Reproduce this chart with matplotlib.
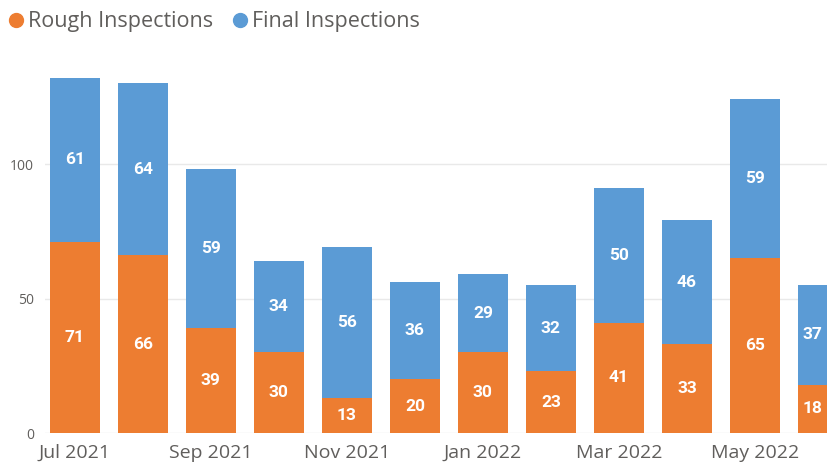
import matplotlib
matplotlib.use('Agg')
import matplotlib.pyplot as plt
from matplotlib.lines import Line2D
import numpy as np

months = ["Jul 2021", "Aug 2021", "Sep 2021", "Oct 2021", "Nov 2021", "Dec 2021",
          "Jan 2022", "Feb 2022", "Mar 2022", "Apr 2022", "May 2022", "Jun 2022"]
rough = [71, 66, 39, 30, 13, 20, 30, 23, 41, 33, 65, 18]
final = [61, 64, 59, 34, 56, 36, 29, 32, 50, 46, 59, 37]

ORANGE = "#ED7D31"
BLUE = "#5B9BD5"
GRAY = "#605E5C"

plt.rcParams['font.family'] = ['Open Sans', 'DejaVu Sans']

W, H = 827, 465
fig = plt.figure(figsize=(W / 100, H / 100), dpi=100)
ax = fig.add_axes([45 / W, 32 / H, 782 / W, 376.6 / H])

x = np.arange(len(months))
w = 0.735
xmax = 11.06
ax.bar(x, rough, width=w, color=ORANGE, zorder=3)
ax.bar(x, final, width=w, bottom=rough, color=BLUE, zorder=3)

# value labels centred in the visible part of each segment
for i in range(len(months)):
    cx = x[i]
    if x[i] + w / 2 > xmax:
        cx = (x[i] - w / 2 + xmax) / 2
    ax.text(cx, rough[i] / 2, str(rough[i]), ha="center", va="center",
            color="white", fontsize=12.5, fontweight="bold", family="Roboto", zorder=4)
    ax.text(cx, rough[i] + final[i] / 2, str(final[i]), ha="center", va="center",
            color="white", fontsize=12.5, fontweight="bold", family="Roboto", zorder=4)

ax.set_xlim(-0.44, xmax)
ax.set_ylim(0, 140)
ax.set_yticks([0, 50, 100])
ax.set_xticks(x[::2])
ax.set_xticklabels(months[::2])
ax.tick_params(axis="x", length=0, labelsize=14, colors=GRAY, pad=8)
ax.tick_params(axis="y", length=0, labelsize=10, colors=GRAY, pad=8)
ax.grid(axis="y", color="#E9E9E9", linewidth=1, zorder=0)
for s in ax.spines.values():
    s.set_visible(False)

# legend drawn by hand so marker/text spacing matches
legend_items = [("Rough Inspections", ORANGE, 16, 28), ("Final Inspections", BLUE, 240, 252)]
for label, col, mx, tx in legend_items:
    fig.add_artist(Line2D([mx / W], [1 - 20 / H], marker="o", linestyle="",
                          color=col, markersize=10, transform=fig.transFigure))
    fig.text(tx / W, 1 - 22 / H, label, ha="left", va="center",
             fontsize=15.5, color=GRAY)

fig.savefig("out.png", dpi=100)
